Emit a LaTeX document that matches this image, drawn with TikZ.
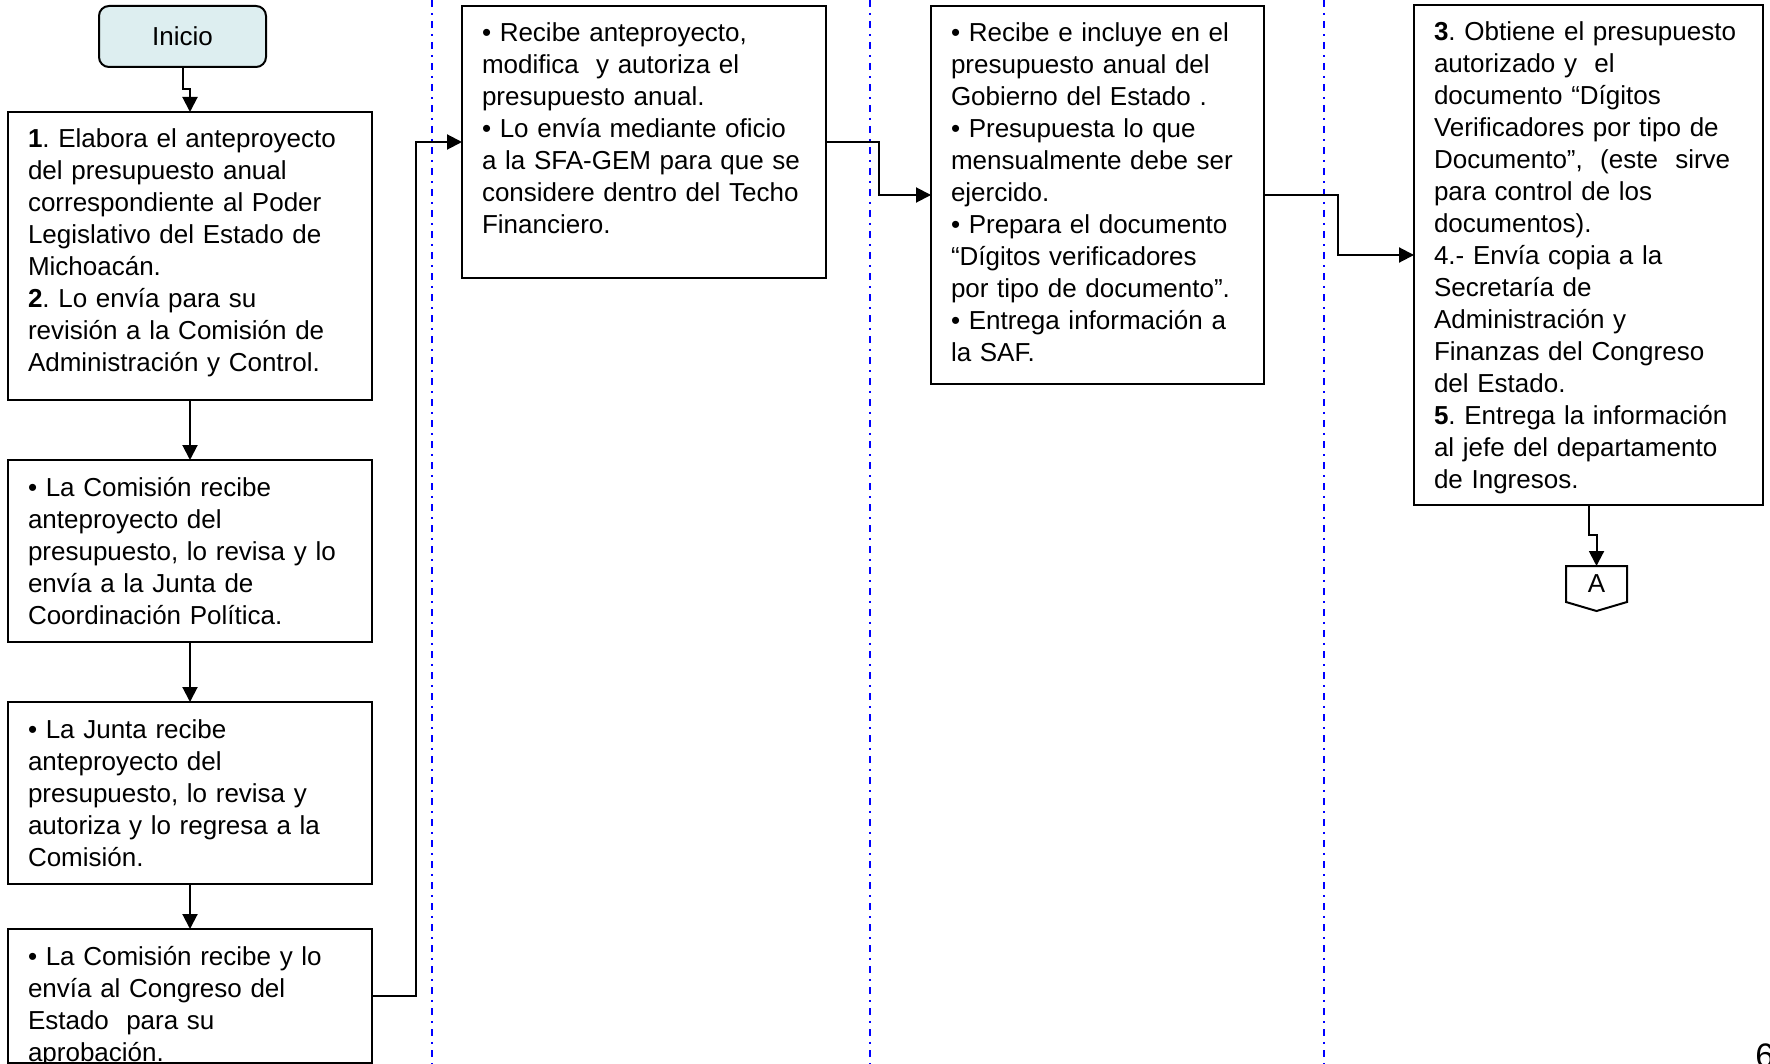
\documentclass[tikz,border=0pt]{standalone}
\usepackage{fontspec}
\setmainfont{Liberation Sans}
\usepackage{tikz}
\usetikzlibrary{positioning,arrows.meta}
\definecolor{iniciofill}{RGB}{221,238,240}
\frenchspacing

\begin{document}
\begin{tikzpicture}[node distance=30pt, font=\fontsize{13pt}{16pt}\selectfont]
                \tikzstyle{startstop} = [rectangle, rounded corners=5pt, minimum width=83.5pt, minimum height=30.5pt, draw=black, line width=1pt, outer sep=0pt, fill=iniciofill]
                \tikzstyle{process} = [rectangle, draw=black, line width=1pt, outer sep=0pt, align=left, text width=162pt, inner xsep=10pt, inner ysep=8pt, text height=10pt]
                \tikzstyle{connector} = [minimum width=30.5pt, minimum height=18pt, inner sep=0pt, outer sep=0pt]

                \tikzstyle{arrow} = [line width=1pt, -{Triangle[length=7.5pt, width=7.5pt]}]
                \tikzstyle{lane} = [blue, line width=0.8pt, dash pattern=on 3.6pt off 2.8pt on 0.9pt off 3.2pt]

                \useasboundingbox (0,0) rectangle (885pt,-532pt);
                \draw [lane] (216pt,0) -- (216pt,-532pt);
                \draw [lane] (435pt,0) -- (435pt,-532pt);
                \draw [lane] (662pt,0) -- (662pt,-532pt);

                \node (elabora) [process, text depth=118pt, anchor=north] at (95pt,-56pt) {\textbf{1}. Elabora el anteproyecto\\del presupuesto anual\\correspondiente al Poder\\Legislativo del Estado de\\Michoacán.\\\textbf{2}. Lo envía para su\\revisión a la Comisión de\\Administración y Control.};
                \node (inicio) [startstop, above=22.5pt of elabora, xshift=-3.75pt] {Inicio};
                \node (comision) [process, text depth=65pt, below=of elabora] {• La Comisión recibe\\anteproyecto del\\presupuesto, lo revisa y lo\\envía a la Junta de\\Coordinación Política.};
                \node (junta) [process, text depth=65pt, below=of comision] {• La Junta recibe\\anteproyecto del\\presupuesto, lo revisa y\\autoriza y lo regresa a la\\Comisión.};
                \node (congreso) [process, text depth=41pt, below=22.5pt of junta] {• La Comisión recibe y lo\\envía al Congreso del\\Estado\ \ para su\\aprobación.};
                \node (sfa) [process, text depth=110pt, anchor=north west] at (231pt,-3pt) {• Recibe anteproyecto,\\modifica\ \ y autoriza el\\presupuesto anual.\\• Lo envía mediante oficio\\a la SFA-GEM para que se\\considere dentro del Techo\\Financiero.};
                \node (gobierno) [process, text width=146.5pt, text depth=163pt, anchor=north west] at (465.5pt,-3pt) {• Recibe e incluye en el\\presupuesto anual del\\Gobierno del Estado .\\• Presupuesta lo que\\mensualmente debe ser\\ejercido.\\• Prepara el documento\\“Dígitos verificadores\\por tipo de documento”.\\• Entrega información a\\la SAF.};
                \node (saf) [process, text width=154.5pt, text depth=224pt, anchor=north west] at (707pt,-2.5pt) {\textbf{3}. Obtiene el presupuesto\\autorizado y\ \ el\\documento “Dígitos\\Verificadores por tipo de\\Documento”,\ \ (este\ \ sirve\\para control de los\\documentos).\\4.- Envía copia a la\\Secretaría de\\Administración y\\Finanzas del Congreso\\del Estado.\\\textbf{5}. Entrega la información\\al jefe del departamento\\de Ingresos.};
                \node (conA) [connector, below=30.5pt of saf, xshift=4pt] {A};
                \node (pagina) [anchor=base west, inner sep=0pt, font=\fontsize{17pt}{20pt}\selectfont] at (877.5pt,-533.5pt) {6};

                \draw [arrow] (inicio.south) -- ++(0,-11pt) -| (elabora.north);
                \draw [arrow] (elabora) -- (comision);
                \draw [arrow] (comision) -- (junta);
                \draw [arrow] (junta) -- (congreso);
                \draw [arrow] (congreso.east) -- ++(22pt,0) |- (sfa.west);
                \draw [arrow] (sfa.east) -- ++(26.5pt,0) |- (gobierno.west);
                \draw [arrow] (gobierno.east) -- ++(37pt,0) |- (saf.west);
                \draw [arrow] (saf.south) -- ++(0,-15pt) -| (conA.north);
                \draw [line width=1pt] (conA.north west) -- (conA.north east) -- (conA.south east) -- ([yshift=-4.5pt]conA.south) -- (conA.south west) -- cycle;
\end{tikzpicture}
\end{document}
